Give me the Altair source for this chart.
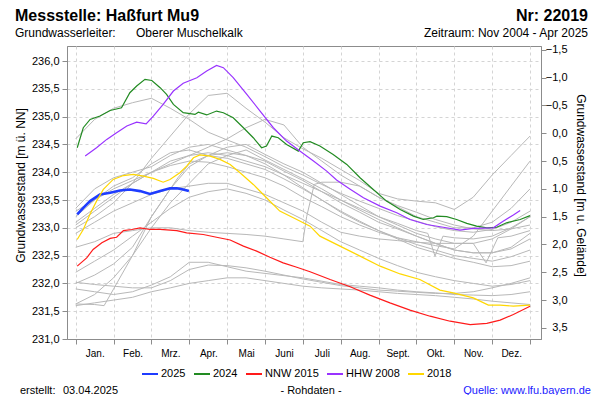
import altair as alt
import pandas as pd

# ---------------- values ----------------
MONTHS = ["Jan.", "Feb.", "Mrz.", "Apr.", "Mai", "Juni", "Juli", "Aug.", "Sept.", "Okt.", "Nov.", "Dez."]
GROUND_LEVEL = 234.70  # Geländehöhe [m ü. NN]
Y_TICKS = [231.0, 231.5, 232.0, 232.5, 233.0, 233.5, 234.0, 234.5, 235.0, 235.5, 236.0]
Y2_TICKS = [-1.5, -1.0, -0.5, 0.0, 0.5, 1.0, 1.5, 2.0, 2.5, 3.0, 3.5]

SERIES = ["2025", "2024", "NNW 2015", "HHW 2008", "2018"]
COLORS = ["#1e3cff", "#228b22", "#ff1a1a", "#9933ff", "#ffd700"]

# x = position in the year, in months (0 = 1 Jan, 12 = 31 Dec)
y2025_m = [0.04, 0.20, 0.38, 0.64, 0.91, 1.17, 1.43, 1.70, 1.96, 2.23, 2.49, 2.67, 2.84, 2.99]
y2025_v = [233.24, 233.36, 233.48, 233.60, 233.63, 233.67, 233.69, 233.66, 233.61, 233.66, 233.71, 233.71, 233.69, 233.66]

y2024_m = [0.04, 0.20, 0.38, 0.64, 0.91, 1.21, 1.43, 1.61, 1.83, 2.01, 2.23, 2.40, 2.58, 2.84, 3.15, 3.24, 3.46,
           3.72, 3.90, 4.16, 4.43, 4.69, 4.91, 5.04, 5.18, 5.35, 5.57, 5.88, 6.01, 6.19, 6.45, 6.80, 7.16, 7.51,
           7.86, 8.21, 8.57, 8.92, 9.18, 9.45, 9.54, 9.80, 10.06, 10.33, 10.59, 10.86, 11.12, 11.38, 11.74, 12.0]
y2024_v = [234.44, 234.80, 234.95, 235.01, 235.11, 235.16, 235.43, 235.55, 235.67, 235.65, 235.52, 235.40, 235.22,
           235.07, 235.04, 235.08, 235.03, 235.10, 235.07, 234.98, 234.80, 234.62, 234.44, 234.47, 234.65, 234.62,
           234.50, 234.38, 234.53, 234.55, 234.47, 234.32, 234.14, 233.90, 233.69, 233.48, 233.33, 233.21, 233.15,
           233.18, 233.21, 233.20, 233.15, 233.08, 233.03, 233.00, 233.01, 233.09, 233.15, 233.22]

nnw2015_m = [0.04, 0.29, 0.46, 0.69, 0.91, 1.08, 1.26, 1.48, 1.70, 1.96, 2.23, 2.67, 2.93, 3.37, 3.72, 4.08, 4.43,
             4.78, 5.13, 5.48, 5.84, 6.19, 6.72, 7.25, 7.77, 8.30, 8.83, 9.36, 9.89, 10.42, 10.86, 11.21, 11.56, 12.0]
nnw2015_v = [232.31, 232.46, 232.61, 232.73, 232.81, 232.83, 232.95, 232.97, 233.00, 232.97, 232.97, 232.95, 232.91,
             232.88, 232.83, 232.78, 232.67, 232.58, 232.47, 232.37, 232.29, 232.21, 232.07, 231.94, 231.79, 231.65,
             231.52, 231.41, 231.32, 231.26, 231.28, 231.34, 231.44, 231.59]

hhw2008_m = [0.25, 0.55, 0.82, 1.08, 1.35, 1.61, 1.86, 2.05, 2.31, 2.58, 2.84, 3.20, 3.46, 3.72, 3.90, 4.16, 4.52,
             4.87, 5.22, 5.57, 5.92, 6.28, 6.63, 6.89, 7.24, 7.60, 8.04, 8.48, 8.83, 9.27, 9.71, 10.15, 10.50, 11.03,
             11.29, 11.56, 11.74]
hhw2008_v = [234.29, 234.44, 234.59, 234.71, 234.83, 234.90, 234.87, 235.01, 235.22, 235.46, 235.60, 235.70, 235.82,
             235.92, 235.88, 235.70, 235.40, 235.10, 234.80, 234.56, 234.38, 234.20, 234.02, 233.86, 233.70, 233.54,
             233.39, 233.27, 233.15, 233.06, 233.01, 232.96, 232.99, 233.00, 233.12, 233.23, 233.31]

y2018_m = [0.04, 0.20, 0.38, 0.55, 0.73, 0.99, 1.26, 1.52, 1.79, 2.05, 2.31, 2.49, 2.75, 2.93, 3.11, 3.28, 3.55, 3.81,
           4.08, 4.34, 4.69, 5.04, 5.39, 5.84, 6.19, 6.45, 6.98, 7.51, 8.04, 8.57, 9.09, 9.62, 9.97, 10.50, 10.90,
           11.21, 11.56, 12.0]
y2018_v = [232.79, 232.97, 233.25, 233.48, 233.69, 233.87, 233.94, 233.96, 233.93, 233.89, 233.82, 233.87, 233.99,
           234.11, 234.26, 234.31, 234.29, 234.23, 234.14, 233.99, 233.78, 233.54, 233.30, 233.15, 233.03, 232.85,
           232.67, 232.49, 232.31, 232.17, 232.07, 231.88, 231.83, 231.74, 231.61, 231.61, 231.59, 231.61]

# grey background years (half-month grid unless given otherwise)
GM = [0, 0.5, 1, 1.5, 2, 2.5, 3, 3.5, 4, 4.5, 5, 5.5, 6, 6.5, 7, 7.5, 8, 8.5, 9, 9.5, 10, 10.5, 11, 11.5, 12]
g2005_v = [234.60, 234.95, 235.15, 235.25, 235.33, 235.15, 234.95, 234.72, 234.58, 234.45, 234.28, 234.10, 233.95,
           233.78, 233.62, 233.48, 233.35, 233.22, 233.12, 233.02, 232.95, 232.92, 232.97, 233.10, 233.30]
g2006_v = [233.00, 233.20, 233.45, 233.80, 234.25, 234.65, 235.05, 235.38, 235.42, 235.15, 234.90, 234.62, 234.42,
           234.25, 234.05, 233.85, 233.62, 233.52, 233.48, 233.45, 233.33, 233.55, 233.95, 234.30, 234.65]
g2007_v = [233.10, 233.35, 233.60, 233.80, 234.00, 234.12, 234.20, 234.18, 234.10, 234.00, 233.90, 233.75, 233.55,
           233.38, 233.20, 233.05, 232.92, 232.82, 232.75, 232.68, 232.62, 232.85, 233.30, 233.75, 234.20]
g2009_v = [231.90, 231.85, 231.80, 231.85, 231.97, 232.12, 232.38, 232.38, 232.30, 232.22, 232.18, 232.14, 232.10,
           232.04, 231.98, 231.95, 231.92, 231.88, 231.85, 231.83, 231.80, 231.79, 231.78, 231.80, 231.85]
g2010_v = [232.02, 231.98, 231.95, 231.92, 231.92, 232.05, 232.25, 232.33, 232.32, 232.28, 232.22, 232.15, 232.08,
           232.02, 231.96, 231.92, 231.88, 231.86, 231.84, 231.82, 231.82, 231.85, 231.92, 232.00, 232.10]
g2011_m = [0, 0.5, 0.75, 1, 1.5, 2, 2.3, 2.7, 3, 3.5, 4, 4.5, 5, 5.5, 6, 6.5, 7, 7.5, 8, 8.5, 9, 9.5, 10, 10.5, 11,
           11.5, 12]
g2011_v = [231.63, 231.62, 231.60, 231.90, 232.50, 233.20, 233.50, 233.90, 234.15, 234.30, 234.35, 234.30, 234.15,
           233.95, 233.72, 233.50, 233.28, 233.10, 232.95, 232.82, 232.70, 232.60, 232.50, 232.45, 232.40, 232.48,
           232.60]
g2012_v = [231.63, 231.80, 232.10, 232.50, 233.00, 233.45, 233.80, 234.15, 234.30, 234.40, 234.22, 234.05, 233.88,
           233.70, 233.50, 233.32, 233.15, 233.00, 232.85, 232.72, 232.60, 232.55, 232.55, 232.65, 232.90]
g2013_v = [232.00, 232.15, 232.35, 232.65, 233.20, 233.70, 234.10, 234.30, 234.45, 234.50, 234.32, 234.15, 234.00,
           233.80, 233.60, 233.40, 233.20, 233.05, 232.90, 232.80, 232.72, 232.72, 232.80, 232.98, 233.20]
g2014_v = [233.35, 233.70, 233.90, 234.00, 234.10, 234.30, 234.45, 234.50, 234.40, 234.30, 234.20, 234.02, 233.85,
           233.65, 233.45, 233.28, 233.10, 232.98, 232.85, 232.72, 232.60, 232.55, 232.55, 232.62, 232.80]
g2016_v = [233.20, 233.50, 233.75, 233.90, 234.15, 234.35, 234.40, 234.30, 234.25, 234.15, 234.05, 233.88, 233.70,
           233.50, 233.30, 233.12, 232.95, 232.80, 232.65, 232.55, 232.45, 232.38, 232.30, 232.32, 232.40]
g2017_m = [0, 0.5, 1, 1.5, 2, 2.5, 3, 3.5, 4, 4.5, 5, 5.5, 6, 6.5, 7, 7.5, 8, 8.5, 9, 9.3, 9.49, 9.7, 10, 10.5, 11,
           11.5, 12]
g2017_v = [233.05, 233.30, 233.55, 233.80, 234.00, 234.20, 234.30, 234.35, 234.30, 234.20, 234.10, 233.95, 233.80,
           233.65, 233.50, 233.35, 233.20, 233.08, 232.95, 232.90, 232.49, 232.85, 232.82, 232.80, 232.85, 233.00,
           233.20]
g2019_m = [0, 0.5, 1, 1.5, 2, 2.5, 3, 3.5, 4, 4.5, 5, 5.5, 6, 6.1, 6.3, 6.5, 7, 7.5, 8, 8.5, 9, 9.5, 10, 10.5, 11,
           11.5, 12]
g2019_v = [232.65, 232.75, 232.90, 232.95, 233.00, 233.00, 232.95, 232.92, 232.90, 232.88, 232.85, 232.80, 232.75,
           233.20, 233.78, 233.82, 233.82, 233.75, 233.55, 233.40, 233.28, 233.15, 233.05, 232.98, 232.95, 232.98,
           233.05]
g2020_m = [0, 0.5, 1, 1.5, 2, 2.5, 3, 3.5, 4, 4.5, 5, 5.5, 6, 6.5, 7, 7.5, 8, 8.5, 9, 9.5, 10, 10.5, 10.84, 11.15,
           11.5, 12]
g2020_v = [232.90, 233.10, 233.30, 233.45, 233.60, 233.70, 233.75, 233.80, 233.80, 233.70, 233.60, 233.45, 233.30,
           233.10, 232.92, 232.85, 232.80, 232.77, 232.74, 232.72, 232.72, 232.72, 232.37, 232.82, 232.85, 232.95]
g2021_v = [232.20, 232.40, 232.60, 232.85, 233.10, 233.35, 233.55, 233.65, 233.70, 233.62, 233.50, 233.32, 233.15,
           232.95, 232.75, 232.60, 232.45, 232.32, 232.20, 232.12, 232.05, 232.00, 231.95, 231.98, 232.05]
g2022_v = [233.30, 233.50, 233.70, 233.85, 234.00, 234.15, 234.30, 234.45, 234.60, 234.80, 234.95, 234.85, 234.45,
           234.20, 233.95, 233.75, 233.55, 233.38, 233.20, 233.10, 233.00, 233.00, 233.10, 233.35, 233.70]
g2023_v = [231.60, 231.65, 231.70, 231.75, 231.85, 231.92, 232.00, 232.05, 232.10, 232.10, 232.05, 232.00, 231.95,
           231.92, 231.90, 231.88, 231.85, 231.82, 231.80, 231.78, 231.75, 231.72, 231.68, 231.65, 231.62]

# ---------------- tables ----------------
hi_parts = [("2025", y2025_m, y2025_v), ("2024", y2024_m, y2024_v), ("NNW 2015", nnw2015_m, nnw2015_v),
            ("HHW 2008", hhw2008_m, hhw2008_v), ("2018", y2018_m, y2018_v)]
hi = pd.concat([pd.DataFrame({"m": m, "v": v, "serie": s, "ord": i})
                for i, (s, m, v) in enumerate(hi_parts)], ignore_index=True)

gray_parts = [("2005", GM, g2005_v), ("2006", GM, g2006_v), ("2007", GM, g2007_v), ("2009", GM, g2009_v),
              ("2010", GM, g2010_v), ("2011", g2011_m, g2011_v), ("2012", GM, g2012_v), ("2013", GM, g2013_v),
              ("2014", GM, g2014_v), ("2016", GM, g2016_v), ("2017", g2017_m, g2017_v), ("2019", g2019_m, g2019_v),
              ("2020", g2020_m, g2020_v), ("2021", GM, g2021_v), ("2022", GM, g2022_v), ("2023", GM, g2023_v)]
gray = pd.concat([pd.DataFrame({"m": m, "v": v, "jahr": y}) for y, m, v in gray_parts], ignore_index=True)

depth = pd.DataFrame({"m": y2024_m, "d": [round(GROUND_LEVEL - v, 3) for v in y2024_v]})

FONT = "Liberation Sans"
GRID = "#d4d4d4"
AXC = "#8c8c8c"

label_expr = "[" + ",".join("'%s'" % s for s in MONTHS + [""]) + "][datum.value]"
num_expr = "replace(format(datum.value, '.1f'), '.', ',')"

x_enc = alt.X("m:Q", scale=alt.Scale(domain=[-0.23, 12.29], nice=False, zero=False),
              axis=alt.Axis(values=list(range(13)), labelExpr=label_expr, labelOffset=19, labelPadding=4,
                            tickSize=5, grid=True, gridDash=[3, 3], gridColor=GRID, title=None,
                            labelFontSize=10, labelOverlap=False, labelBound=False, labelFlush=False))

y_enc = alt.Y("v:Q", scale=alt.Scale(domain=[231.0, 236.27], nice=False, zero=False),
              axis=alt.Axis(values=Y_TICKS, labelExpr=num_expr, tickSize=5, labelPadding=3, grid=True,
                            gridDash=[3, 3], gridColor=GRID, labelFontSize=11,
                            title="Grundwasserstand [m ü. NN]", titleFontSize=12, titleFontWeight="normal",
                            titlePadding=4, titleY=139))

gray_layer = alt.Chart(gray).mark_line(color="#b8b8b8", strokeWidth=1).encode(
    x=x_enc, y=y_enc, detail="jahr:N")

hi_layer = alt.Chart(hi).mark_line().encode(
    x=x_enc, y=y_enc,
    color=alt.Color("serie:N", scale=alt.Scale(domain=SERIES, range=COLORS),
                    legend=alt.Legend(title=None, orient="none", legendX=74, legendY=319,
                                      direction="horizontal", symbolType="stroke", symbolSize=256,
                                      symbolStrokeWidth=2, labelFontSize=11, labelFont=FONT,
                                      labelColor="black", columnPadding=4, labelOffset=2)),
    strokeWidth=alt.condition(alt.datum.serie == "2025", alt.value(2.6), alt.value(1.2)),
    detail="serie:N",
    order=alt.Order("ord:Q", sort="descending"),
)

inner = alt.layer(gray_layer, hi_layer)

right_layer = alt.Chart(depth).mark_line(opacity=0).encode(
    x=x_enc,
    y=alt.Y("d:Q", scale=alt.Scale(domain=[-1.57, 3.70], reverse=True, nice=False, zero=False),
            axis=alt.Axis(orient="right", values=Y2_TICKS, labelExpr=num_expr, tickSize=5, labelAlign="right",
                          labelPadding=21, grid=False, labelFontSize=11,
                          title="Grundwasserstand [m u. Gelände]", titleFontSize=12, titleFontWeight="normal",
                          titlePadding=6, titleY=139)),
)


def txt(s, x, y, size=12, align="left", weight="normal", color="black"):
    return alt.Chart(pd.DataFrame({"t": [s]})).mark_text(
        align=align, baseline="alphabetic", fontSize=size, fontWeight=weight, color=color, font=FONT
    ).encode(text="t:N", x=alt.value(x), y=alt.value(y))


texts = [
    txt("Messstelle: Haßfurt Mu9", -52, -25, size=16, weight="bold"),
    txt("Nr: 22019", 521, -25, size=16, align="right", weight="bold"),
    txt("Grundwasserleiter:", -52, -9, size=12),
    txt("Oberer Muschelkalk", 69, -9, size=12),
    txt("Zeitraum: Nov 2004 - Apr 2025", 521, -9, size=12, align="right"),
    txt("erstellt:", -47, 348, size=11),
    txt("03.04.2025", -4, 348, size=11),
    txt("- Rohdaten -", 244, 348, size=11, align="center"),
    txt("Quelle: www.lfu.bayern.de", 524, 348, size=11, align="right", color="#1a1aff"),
]

chart = alt.layer(inner, right_layer, *texts).resolve_scale(y="independent").properties(
    width=474, height=293,
    padding={"left": 59, "top": 38, "right": 51, "bottom": 56},
    autosize=alt.AutoSizeParams(type="none"),
).configure(font=FONT).configure_view(stroke=AXC, strokeWidth=1).configure_axis(
    domainColor=AXC, tickColor=AXC, labelColor="black", labelFont=FONT, titleFont=FONT, titleColor="black"
)

chart.save("out.html", embed_options={"renderer": "svg", "actions": False})
